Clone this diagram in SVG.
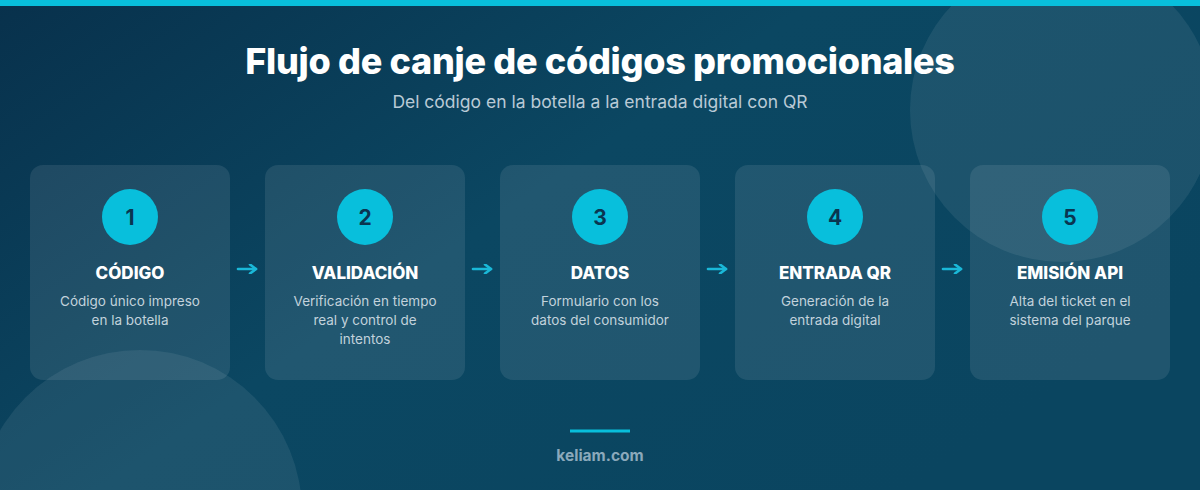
<svg xmlns="http://www.w3.org/2000/svg" width="1200" height="490" viewBox="0 0 1200 490">
  <defs>
    <linearGradient id="bg" x1="0" y1="0" x2="1" y2="0.6">
      <stop offset="0" stop-color="#08314c"/>
      <stop offset="0.5" stop-color="#0b4762"/>
      <stop offset="1" stop-color="#0a4560"/>
    </linearGradient>
    <marker id="ah" viewBox="0 0 10 10" refX="8" refY="5" markerWidth="10" markerHeight="10" markerUnits="userSpaceOnUse" orient="auto">
      <path d="M2,0.5 L8,5 L2,9.5" fill="none" stroke="#1ab8d8" stroke-width="2.6" stroke-linecap="round" stroke-linejoin="round"/>
    </marker>
    <style>
      .title { font-family: Inter, "Liberation Sans", sans-serif; font-weight: 800; font-size: 36px; letter-spacing: -0.3px; fill: #ffffff; }
      .sub { font-family: Inter, "Liberation Sans", sans-serif; font-size: 17.5px; fill: #b9cad6; }
      .card { fill: #ffffff; fill-opacity: 0.09; }
      .badge { fill: #08bfdc; }
      .num { font-family: Inter, "Liberation Sans", sans-serif; font-weight: 700; font-size: 21px; fill: #0a3550; text-anchor: middle; }
      .head { font-family: Inter, "Liberation Sans", sans-serif; font-weight: 800; font-size: 17px; fill: #ffffff; text-anchor: middle; }
      .desc { font-family: Inter, "Liberation Sans", sans-serif; font-size: 13.5px; fill: #c2d2dc; text-anchor: middle; }
      .conn { stroke: #1ab8d8; stroke-width: 2.6; stroke-linecap: round; fill: none; }
      .deco { fill: #ffffff; fill-opacity: 0.075; }
    </style>
  </defs>

  <rect x="0" y="0" width="1200" height="490" fill="url(#bg)"/>
  <circle class="deco" cx="1062" cy="110" r="152"/>
  <circle class="deco" cx="140" cy="512" r="162"/>
  <rect x="0" y="0" width="1200" height="6" fill="#08bfdc"/>

  <text class="title" x="600" y="74" text-anchor="middle">Flujo de canje de códigos promocionales</text>
  <text class="sub" x="600" y="108" text-anchor="middle">Del código en la botella a la entrada digital con QR</text>

  <g id="connectors">
    <line class="conn" x1="238" y1="269" x2="256" y2="269" marker-end="url(#ah)"/>
    <line class="conn" x1="473" y1="269" x2="491" y2="269" marker-end="url(#ah)"/>
    <line class="conn" x1="708" y1="269" x2="726" y2="269" marker-end="url(#ah)"/>
    <line class="conn" x1="943" y1="269" x2="961" y2="269" marker-end="url(#ah)"/>
  </g>

  <g id="node1">
    <rect class="card" x="30" y="165" width="200" height="215" rx="13"/>
    <circle class="badge" cx="130" cy="217" r="28"/>
    <text class="num" x="130" y="225">1</text>
    <text class="head" x="130" y="279">CÓDIGO</text>
    <text class="desc" x="130" y="306">Código único impreso</text>
    <text class="desc" x="130" y="325">en la botella</text>
  </g>

  <g id="node2">
    <rect class="card" x="265" y="165" width="200" height="215" rx="13"/>
    <circle class="badge" cx="365" cy="217" r="28"/>
    <text class="num" x="365" y="225">2</text>
    <text class="head" x="365" y="279">VALIDACIÓN</text>
    <text class="desc" x="365" y="306">Verificación en tiempo</text>
    <text class="desc" x="365" y="325">real y control de</text>
    <text class="desc" x="365" y="344">intentos</text>
  </g>

  <g id="node3">
    <rect class="card" x="500" y="165" width="200" height="215" rx="13"/>
    <circle class="badge" cx="600" cy="217" r="28"/>
    <text class="num" x="600" y="225">3</text>
    <text class="head" x="600" y="279">DATOS</text>
    <text class="desc" x="600" y="306">Formulario con los</text>
    <text class="desc" x="600" y="325">datos del consumidor</text>
  </g>

  <g id="node4">
    <rect class="card" x="735" y="165" width="200" height="215" rx="13"/>
    <circle class="badge" cx="835" cy="217" r="28"/>
    <text class="num" x="835" y="225">4</text>
    <text class="head" x="835" y="279">ENTRADA QR</text>
    <text class="desc" x="835" y="306">Generación de la</text>
    <text class="desc" x="835" y="325">entrada digital</text>
  </g>

  <g id="node5">
    <rect class="card" x="970" y="165" width="200" height="215" rx="13"/>
    <circle class="badge" cx="1070" cy="217" r="28"/>
    <text class="num" x="1070" y="225">5</text>
    <text class="head" x="1070" y="279">EMISIÓN API</text>
    <text class="desc" x="1070" y="306">Alta del ticket en el</text>
    <text class="desc" x="1070" y="325">sistema del parque</text>
  </g>

  <g id="footer">
    <line x1="570" y1="431" x2="630" y2="431" stroke="#08bfdc" stroke-width="3"/>
    <text x="600" y="461" text-anchor="middle" font-family="Inter, 'Liberation Sans', sans-serif" font-weight="700" font-size="15.5" fill="#8ba9bb">keliam.com</text>
  </g>
</svg>
